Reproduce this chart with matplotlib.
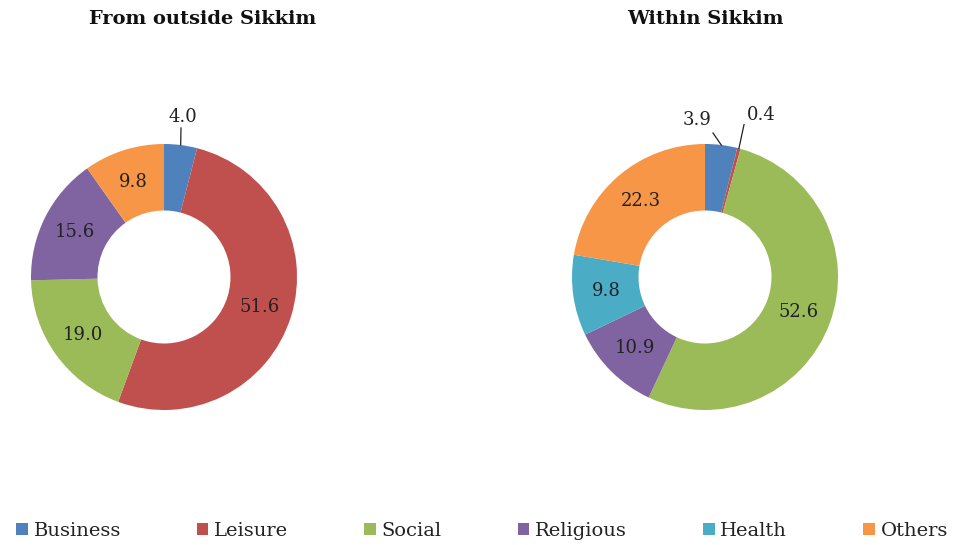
import numpy as np
import matplotlib
matplotlib.use("Agg")
import matplotlib.pyplot as plt
from matplotlib.patches import Patch

plt.rcParams['font.family'] = ['DejaVu Serif']

categories = ["Business", "Leisure", "Social", "Religious", "Health", "Others"]
colors = ["#4F81BD", "#C0504D", "#9BBB59", "#8064A2", "#4BACC6", "#F79646"]

outside_title = "From outside Sikkim"
outside_values = [4.0, 51.6, 19.0, 15.6, 0.0, 9.8]

within_title = "Within Sikkim"
within_values = [3.9, 0.4, 52.6, 10.9, 9.8, 22.3]

W, H = 957, 545
fig = plt.figure(figsize=(W / 100, H / 100), dpi=100)

R_PX = 133
RING = 0.5


def add_donut(cx, cy, values, outside_labels):
    size = 2 * R_PX + 40
    ax = fig.add_axes([(cx - size / 2) / W, 1 - (cy + size / 2) / H, size / W, size / H])
    vals = np.array(values, dtype=float)
    keep = vals > 0
    ax.pie(vals[keep], colors=[c for c, k in zip(colors, keep) if k],
           startangle=90, counterclock=False, radius=1,
           wedgeprops=dict(width=RING, linewidth=0), normalize=True)
    half = size / 2 / R_PX
    ax.set_xlim(-half, half)
    ax.set_ylim(-half, half)
    ax.set_aspect("equal")
    ax.axis("off")
    total = vals.sum()
    cum = 0.0
    for i, v in enumerate(vals):
        if v <= 0:
            continue
        mid = (cum + v / 2) / total * 2 * np.pi
        cum += v
        ang_x, ang_y = np.sin(mid), np.cos(mid)
        txt = f"{v:.1f}"
        if i in outside_labels:
            tx, ty, lx, ly = outside_labels[i]
            ax.text(tx, ty, txt, ha="center", va="center", fontsize=13, color="#222222")
            ax.plot([lx, ang_x], [ly, ang_y], color="#222222", lw=0.9)
        else:
            r = 1 - RING / 2
            ax.text(r * ang_x, r * ang_y, txt, ha="center", va="center",
                    fontsize=13, color="#222222")
    return ax


# label text centre and leader start, in radius units relative to the donut centre
add_donut(164, 277, outside_values,
          {0: ((183 - 164) / R_PX, (277 - 117) / R_PX, (181 - 164) / R_PX, (277 - 128) / R_PX)})
add_donut(705, 277, within_values,
          {0: ((697 - 705) / R_PX, (277 - 120) / R_PX, (713 - 705) / R_PX, (277 - 133) / R_PX),
           1: ((761 - 705) / R_PX, (277 - 115) / R_PX, (745 - 705) / R_PX, (277 - 120) / R_PX)})

fig.text(203 / W, 1 - 19 / H, outside_title, ha="center", va="center",
         fontsize=14, fontweight="bold", color="#111111")
fig.text(705 / W, 1 - 19 / H, within_title, ha="center", va="center",
         fontsize=14, fontweight="bold", color="#111111")

handles = [Patch(facecolor=c, edgecolor="none") for c in colors]
fig.legend(handles, categories, loc="center", bbox_to_anchor=(482 / W, 1 - 531 / H),
           ncol=6, frameon=False, fontsize=14, handlelength=0.6, handleheight=0.6,
           handletextpad=0.3, columnspacing=3.9, labelcolor="#222222",
           borderpad=0.2)

fig.savefig("out.png", dpi=100, facecolor="white")
